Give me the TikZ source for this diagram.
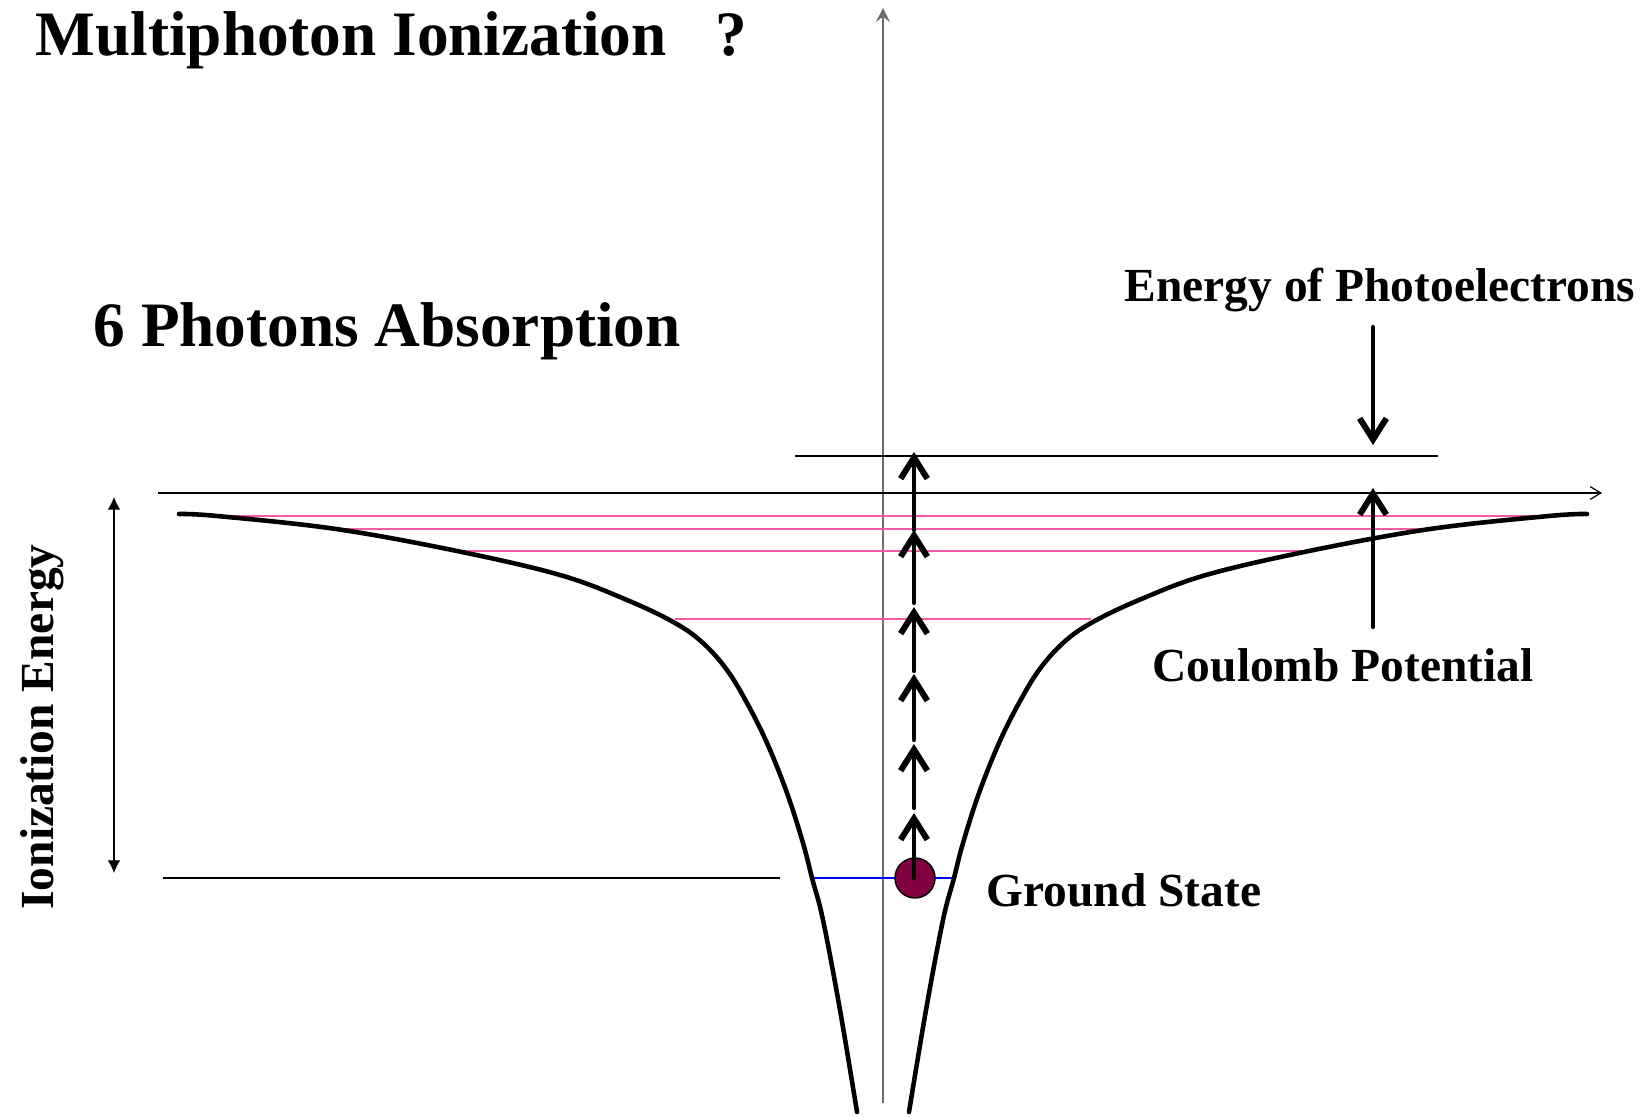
\documentclass[tikz,border=0pt]{standalone}
\usepackage{fontspec}
\setmainfont{Liberation Serif}
\usetikzlibrary{arrows.meta}
\definecolor{pinkline}{RGB}{245,90,165}
\definecolor{dotred}{RGB}{128,0,64}
\definecolor{axisgray}{RGB}{110,110,110}
\begin{document}
\begin{tikzpicture}[x=0.1mm,y=-0.1mm,
  curve/.style={line width=1.3pt, line cap=round, line join=round},
  photon/.style={line width=1.2pt, line cap=round, line join=round, -{Straight Barb[length=6pt,width=7.6pt,line width=1.7pt]}},
  level/.style={pinkline, line width=0.4pt},
  thinline/.style={line width=0.3pt},
  big/.style={font=\fontsize{18}{22}\selectfont\bfseries, inner sep=0pt, anchor=base west},
  lbl/.style={font=\fontsize{13.5}{16}\selectfont\bfseries, inner sep=0pt, anchor=base west}]
\useasboundingbox (0,0) rectangle (1650,1117);

% texts
\node[big] (title) at (35,56) {Multiphoton Ionization\hspace{14pt}?};
\node[big] (sub) at (93,347) {6 Photons Absorption};
\node[lbl] (epe) at (1124,302) {Energy of Photoelectrons};
\node[lbl] (coul) at (1152,682) {Coulomb Potential};
\node[lbl] (gs) at (986,906) {Ground State};
\node[lbl, rotate=90, anchor=base] (ie) at (53,727) {Ionization Energy};

% coordinates
\coordinate (vb) at (883,1103); \coordinate (vt) at (883,8);
\coordinate (hl) at (158,493); \coordinate (hr) at (1602,493);
\coordinate (tl) at (795,456); \coordinate (tr) at (1438,456);
\coordinate (iet) at (114,497); \coordinate (ieb) at (114,873);
\coordinate (gl) at (163,878); \coordinate (gr) at (780,878);
\coordinate (bl) at (812,878); \coordinate (br) at (954,878);
\coordinate (l1a) at (217,516); \coordinate (l1b) at (1549,516);
\coordinate (l2a) at (336,529); \coordinate (l2b) at (1430,529);
\coordinate (l3a) at (457,551); \coordinate (l3b) at (1309,551);
\coordinate (l4a) at (675,619); \coordinate (l4b) at (1091,619);
\coordinate (da1) at (1373,327); \coordinate (da2) at (1373,445);
\coordinate (ua1) at (1373,627); \coordinate (ua2) at (1373,488);

% axes
\draw[axisgray, line width=0.35pt, -{Stealth[length=4pt,width=4pt,inset=1.5pt]}] (vb) -- (vt);
\draw[line width=0.35pt, -{Straight Barb[length=3pt,width=3.6pt]}] (hl) -- (hr);

% levels
\draw[level] (l1a) -- (l1b);
\draw[level] (l2a) -- (l2b);
\draw[level] (l3a) -- (l3b);
\draw[level] (l4a) -- (l4b);
\draw[line width=0.6pt] (tl) -- (tr);
\draw[thinline] (gl) -- (gr);
\draw[blue, thinline] (bl) -- (br);

% ionization energy arrow
\draw[line width=0.35pt, {Latex[length=3.6pt,width=3.6pt]}-{Latex[length=3.6pt,width=3.6pt]}] (ieb) -- (iet);

% potential curve
\draw[curve] plot[smooth, tension=0.6] coordinates {(179,514) (217,516) (336,529) (457,551) (560,575) (627,600) (675,623) (703,643) (727,670) (747,703) (767,743) (787,793) (803,843) (812,878) (823,920) (840,1010) (857,1112)};
\draw[curve] plot[smooth, tension=0.6] coordinates {(909,1112) (926,1010) (943,920) (954,878) (963,843) (979,793) (999,743) (1019,703) (1039,670) (1063,643) (1091,623) (1139,600) (1206,575) (1309,551) (1430,529) (1549,516) (1587,514)};

% ground state electron
\node[circle, draw, line width=0.4pt, fill=dotred, minimum size=11.4pt, inner sep=0pt] (gsdot) at (915,878) {};

% photon arrows
\coordinate (p0) at (914,878); \coordinate (p1) at (914,813);
\coordinate (p2) at (914,808); \coordinate (p3) at (914,744);
\coordinate (p4) at (914,740); \coordinate (p5) at (914,674);
\coordinate (p6) at (914,671); \coordinate (p7) at (914,607);
\coordinate (p8) at (914,603); \coordinate (p9) at (914,530);
\coordinate (p10) at (914,530); \coordinate (p11) at (914,452);
\draw[photon] (p0) -- (p1);
\draw[photon] (p2) -- (p3);
\draw[photon] (p4) -- (p5);
\draw[photon] (p6) -- (p7);
\draw[photon] (p8) -- (p9);
\draw[photon] (p10) -- (p11);

% side arrows
\draw[photon] (da1) -- (da2);
\draw[photon] (ua1) -- (ua2);
\end{tikzpicture}
\end{document}
